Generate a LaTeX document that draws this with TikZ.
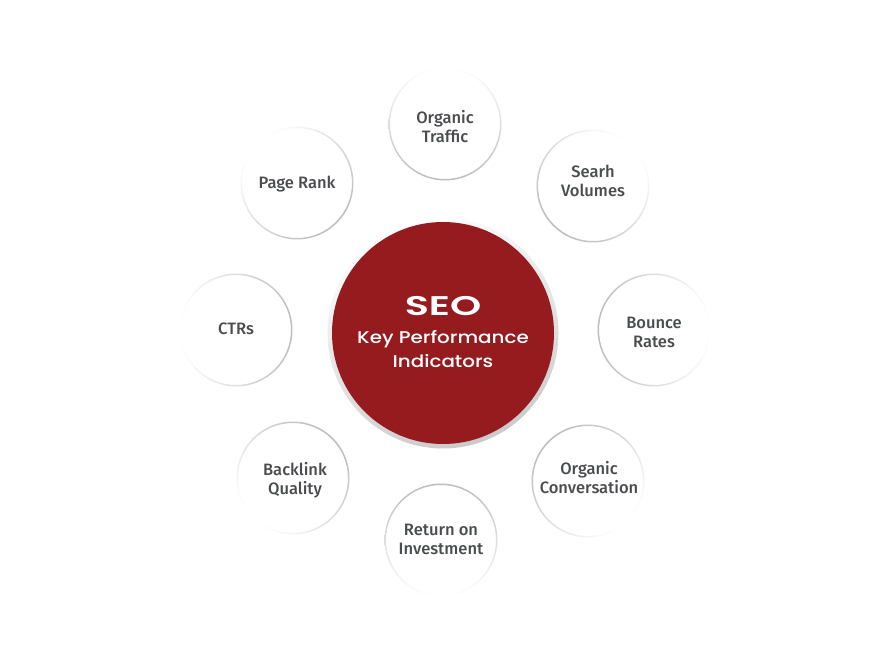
\documentclass[tikz,border=0pt]{standalone}
\usepackage{fontspec}
\setmainfont{Open Sans}
\IfFontExistsTF{Noto Sans Medium}
  {\newfontfamily\satfont{Noto Sans Medium}}
  {\IfFontExistsTF{Fira Sans Medium}
    {\newfontfamily\satfont{Fira Sans Medium}}
    {\newfontfamily\satfont{Open Sans}}}
\newfontfamily\seofont{Poppins SemiBold}[FakeStretch=1.47]
\newfontfamily\keyfont{Poppins Medium}[FakeStretch=1.17]
\definecolor{seored}{HTML}{961B1F}
\definecolor{labelgray}{HTML}{4A4C4F}
\definecolor{ringgray}{HTML}{BDBDBD}
\tikzset{
  sat/.style={circle, minimum size=110pt, inner sep=0pt},
  lbl/.style={align=center, inner sep=0pt, text=labelgray,
    font=\satfont\fontsize{16.5}{19}\selectfont},
  hub/.style={circle, minimum size=222pt, inner sep=0pt, fill=seored},
}
\newcommand\satring[2]{% node name, shading angle
  \shade[even odd rule, top color=ringgray, bottom color=white, shading angle=#2]
    (#1.center) circle (56.5pt) (#1.center) circle (55pt);}
\begin{document}
\begin{tikzpicture}[x=1pt,y=1pt]
\useasboundingbox (0,0) rectangle (891,665);
\fill[white] (0,0) rectangle (891,665);
% hub
\coordinate (hubc) at (443,332);
\shade[even odd rule, top color=white, bottom color=ringgray!80, shading angle=20]
  (hubc) circle (115.5pt) (hubc) circle (110pt);
\node[hub] (hub) at (hubc) {};
\node[text=white, font=\seofont\fontsize{27}{30}\selectfont] (seo) at (443,359) {SEO};
\node[text=white, align=center, font=\keyfont\fontsize{17}{24.5}\selectfont] (kpi) at (443,316) {Key Performance\\Indicators};
% satellites
\node[sat] (ot) at (445,541) {};
\node[sat] (sv) at (593,479) {};
\node[sat] (br) at (654,335) {};
\node[sat] (oc) at (588,184) {};
\node[sat] (roi) at (441,125) {};
\node[sat] (bq) at (293,187) {};
\node[sat] (ctr) at (236,335) {};
\node[sat] (pr) at (297,482) {};
\node[lbl] (otl) at (445,538.5) {Organic\\Traffic};
\node[lbl] (svl) at (593,484) {Searh\\Volumes};
\node[lbl] (brl) at (654,333) {Bounce\\Rates};
\node[lbl] (ocl) at (589,187) {Organic\\Conversation};
\node[lbl] (roil) at (441,126) {Return on\\Investment};
\node[lbl] (bql) at (295,185) {Backlink\\Quality};
\node[lbl] (ctrl) at (236,336) {CTRs};
\node[lbl] (prl) at (297,481) {Page Rank};
\satring{ot}{180}
\satring{sv}{135}
\satring{br}{90}
\satring{oc}{45}
\satring{roi}{0}
\satring{bq}{-45}
\satring{ctr}{-90}
\satring{pr}{-135}
\end{tikzpicture}
\end{document}
